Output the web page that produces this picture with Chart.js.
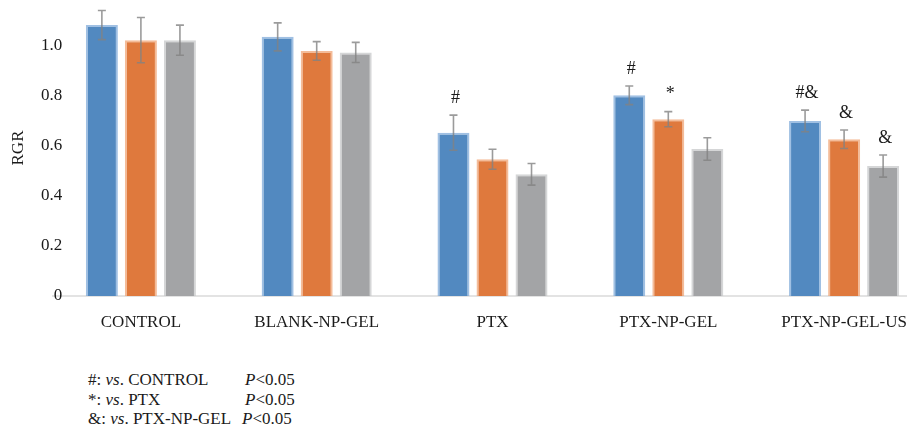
<!DOCTYPE html>
<html>
<head>
<meta charset="utf-8">
<script src="https://cdn.jsdelivr.net/npm/chart.js@4/dist/chart.umd.min.js"></script>
<style>
  html, body { margin: 0; padding: 0; background: #fff; overflow: hidden; }
  #wrap { position: relative; width: 932px; height: 345px; }
  .note { position: absolute; left: 88px; font: 17px 'Liberation Serif', 'Times New Roman', serif; color: #1a1a1a; white-space: nowrap; line-height: 20px; }
  .note span.k { display: inline-block; }
  .note i { font-style: italic; }
</style>
</head>
<body>
<div id="wrap"><canvas id="rgrChart"></canvas></div>
<div class="note" style="top:370px"><span class="k" style="width:157px">#: <i>vs</i>. CONTROL</span><i>P</i>&lt;0.05</div>
<div class="note" style="top:390px"><span class="k" style="width:157px">*: <i>vs</i>. PTX</span><i>P</i>&lt;0.05</div>
<div class="note" style="top:409px"><span class="k" style="width:154px">&amp;: <i>vs</i>. PTX-NP-GEL</span><i>P</i>&lt;0.05</div>
<script>
const categories = ['CONTROL', 'BLANK-NP-GEL', 'PTX', 'PTX-NP-GEL', 'PTX-NP-GEL-US'];

const blueValues = [1.08, 1.033, 0.651, 0.80, 0.698];
const blueErrors = [0.058, 0.056, 0.07, 0.037, 0.043];
const blueMarks = ['', '', '#', '#', '#&'];

const orangeValues = [1.02, 0.977, 0.545, 0.705, 0.625];
const orangeErrors = [0.09, 0.037, 0.04, 0.03, 0.037];
const orangeMarks = ['', '', '', '*', '&'];

const grayValues = [1.02, 0.971, 0.485, 0.586, 0.518];
const grayErrors = [0.06, 0.04, 0.043, 0.045, 0.044];
const grayMarks = ['', '', '', '', '&'];

const yTicks = [0, 0.2, 0.4, 0.6, 0.8, 1.0];

const serif = "'Liberation Serif', 'Times New Roman', serif";

// error bars + significance marks on top of each bar
const errorBarPlugin = {
  id: 'errorBars',
  afterDatasetsDraw(chart) {
    const { ctx } = chart;
    const yScale = chart.scales.y;
    chart.data.datasets.forEach((ds, i) => {
      const meta = chart.getDatasetMeta(i);
      meta.data.forEach((bar, j) => {
        const v = ds.data[j];
        const e = ds.errors[j];
        const top = yScale.getPixelForValue(v + e);
        const bottom = yScale.getPixelForValue(v - e);
        ctx.save();
        ctx.strokeStyle = 'rgba(130,130,130,0.8)';
        ctx.lineWidth = 1.6;
        ctx.beginPath();
        ctx.moveTo(bar.x, top);
        ctx.lineTo(bar.x, bottom);
        ctx.moveTo(bar.x - 4, top);
        ctx.lineTo(bar.x + 4, top);
        ctx.moveTo(bar.x - 4, bottom);
        ctx.lineTo(bar.x + 4, bottom);
        ctx.stroke();
        if (ds.marks[j]) {
          ctx.fillStyle = '#1a1a1a';
          ctx.font = '18px ' + serif;
          ctx.textAlign = 'center';
          ctx.textBaseline = 'middle';
          ctx.fillText(ds.marks[j], bar.x + 2, top - 17);
        }
        ctx.restore();
      });
    });
  },
};

function barSet(label, values, errors, marks, fill, edge) {
  return {
    label,
    data: values,
    errors,
    marks,
    backgroundColor: fill,
    borderColor: edge,
    borderWidth: 2,
    categoryPercentage: 0.666,
    barPercentage: 0.82,
  };
}

new Chart(document.getElementById('rgrChart'), {
  type: 'bar',
  data: {
    labels: categories,
    datasets: [
      barSet('Series 1', blueValues, blueErrors, blueMarks, '#5289c0', 'rgba(120,165,215,0.7)'),
      barSet('Series 2', orangeValues, orangeErrors, orangeMarks, '#df793d', 'rgba(240,160,110,0.7)'),
      barSet('Series 3', grayValues, grayErrors, grayMarks, '#a3a4a6', 'rgba(195,196,198,0.7)'),
    ],
  },
  options: {
    responsive: true,
    maintainAspectRatio: false,
    animation: false,
    layout: { padding: 0 },
    plugins: {
      legend: { display: false },
      tooltip: { enabled: false },
    },
    scales: {
      x: {
        grid: { display: false, drawTicks: false },
        border: { display: true, color: '#e3e3e3', width: 2 },
        ticks: {
          color: '#1a1a1a',
          font: { family: serif, size: 17 },
          padding: 16,
          maxRotation: 0,
          autoSkip: false,
        },
        afterFit(scale) { scale.height = 49; },
      },
      y: {
        min: 0,
        max: 1.18,
        grid: { display: false, drawTicks: false },
        border: { display: false },
        ticks: {
          includeBounds: false,
          stepSize: 0.2,
          mirror: true,
          crossAlign: 'far',
          padding: -12,
          color: '#1a1a1a',
          font: { family: serif, size: 17 },
          callback: (v) => (v === 0 ? '0' : v.toFixed(1)),
        },
        afterBuildTicks(scale) {
          scale.ticks = yTicks.map((value) => ({ value }));
        },
        title: {
          display: true,
          text: 'RGR',
          color: '#1a1a1a',
          font: { family: serif, size: 17 },
          padding: { top: 8, bottom: 0 },
        },
        afterFit(scale) { scale.width = 53; },
      },
    },
  },
  plugins: [errorBarPlugin],
});
</script>
</body>
</html>
